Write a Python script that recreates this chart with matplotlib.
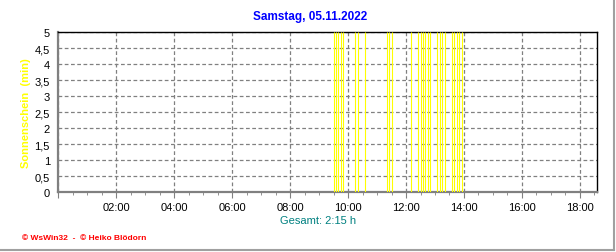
import matplotlib
matplotlib.use("Agg")
import matplotlib.pyplot as plt
from matplotlib.ticker import MultipleLocator, FuncFormatter

# sunshine minutes per 5-minute interval (time as "HH:MM")
sun_times = ["09:30", "09:35", "09:40", "09:45", "09:50",
             "10:15", "10:20", "10:35",
             "11:20", "11:25", "11:30",
             "12:10", "12:25", "12:30", "12:35", "12:40", "12:45", "12:50",
             "13:05", "13:10", "13:15", "13:20",
             "13:35", "13:40", "13:45", "13:50", "13:55"]
sun_minutes = [5] * len(sun_times)

title = "Samstag, 05.11.2022"
ylabel = "Sonnenschein  (min)"
total_label = "Gesamt: 2:15 h"
footer = "\u00a9 WsWin32  -  \u00a9 Heiko Blödorn"

plt.rcParams["font.family"] = ["Liberation Sans", "DejaVu Sans"]


def to_hours(t):
    h, m = t.split(":")
    return int(h) + int(m) / 60


hours = [to_hours(t) for t in sun_times]

fig = plt.figure(figsize=(6.16, 2.53), dpi=100)
ax = fig.add_axes([0.0946, 0.236, 0.875, 0.632])

ax.vlines(hours, 0, sun_minutes, colors="#ffff00", linewidth=0.8, zorder=3)

ax.set_xlim(0, 18.6)
ax.set_ylim(0, 5)
ax.xaxis.set_major_locator(MultipleLocator(2))
ax.xaxis.set_minor_locator(MultipleLocator(0.5))
ax.yaxis.set_major_locator(MultipleLocator(0.5))
ax.xaxis.set_major_formatter(FuncFormatter(lambda v, p: "" if v == 0 else "%02d:00" % int(v)))
ax.yaxis.set_major_formatter(FuncFormatter(lambda v, p: ("%g" % v).replace(".", ",")))

ax.grid(True, which="major", color="#808080", linestyle=(0, (3, 2)), linewidth=0.9)
ax.set_axisbelow(True)

for side in ("left", "bottom"):
    ax.spines[side].set_color("#808080")
    ax.spines[side].set_linewidth(1.6)
for side in ("top", "right"):
    ax.spines[side].set_color("black")
    ax.spines[side].set_linewidth(1.0)

ax.tick_params(axis="both", which="both", colors="#808080", labelcolor="black", labelsize=8)
ax.tick_params(axis="x", which="major", length=4, direction="out")
ax.tick_params(axis="x", which="minor", length=2.5, direction="out")
ax.tick_params(axis="y", length=0, pad=6)
ax.tick_params(axis="x", pad=3)

fig.text(0.503, 0.933, title, color="#0000ff", fontsize=8.5, fontweight="bold", ha="center", va="center")
ax.set_ylabel(ylabel, color="#ffff00", fontsize=8, fontweight="bold")
ax.yaxis.set_label_coords(-0.05, 0.5)
fig.text(0.516, 0.126, total_label, color="#008080", fontsize=8, ha="center", va="center")
fig.text(0.035, 0.059, footer, color="#ff0000", fontsize=6, fontweight="bold", ha="left", va="center")

# outer frame lines on right and bottom of the image
fig.add_artist(plt.Line2D([0, 0.997], [0.006, 0.006], color="#a0a0a0", linewidth=1.5, transform=fig.transFigure))
fig.add_artist(plt.Line2D([0.997, 0.997], [0.006, 1], color="#a0a0a0", linewidth=1.5, transform=fig.transFigure))

fig.savefig("out.png", dpi=100)
